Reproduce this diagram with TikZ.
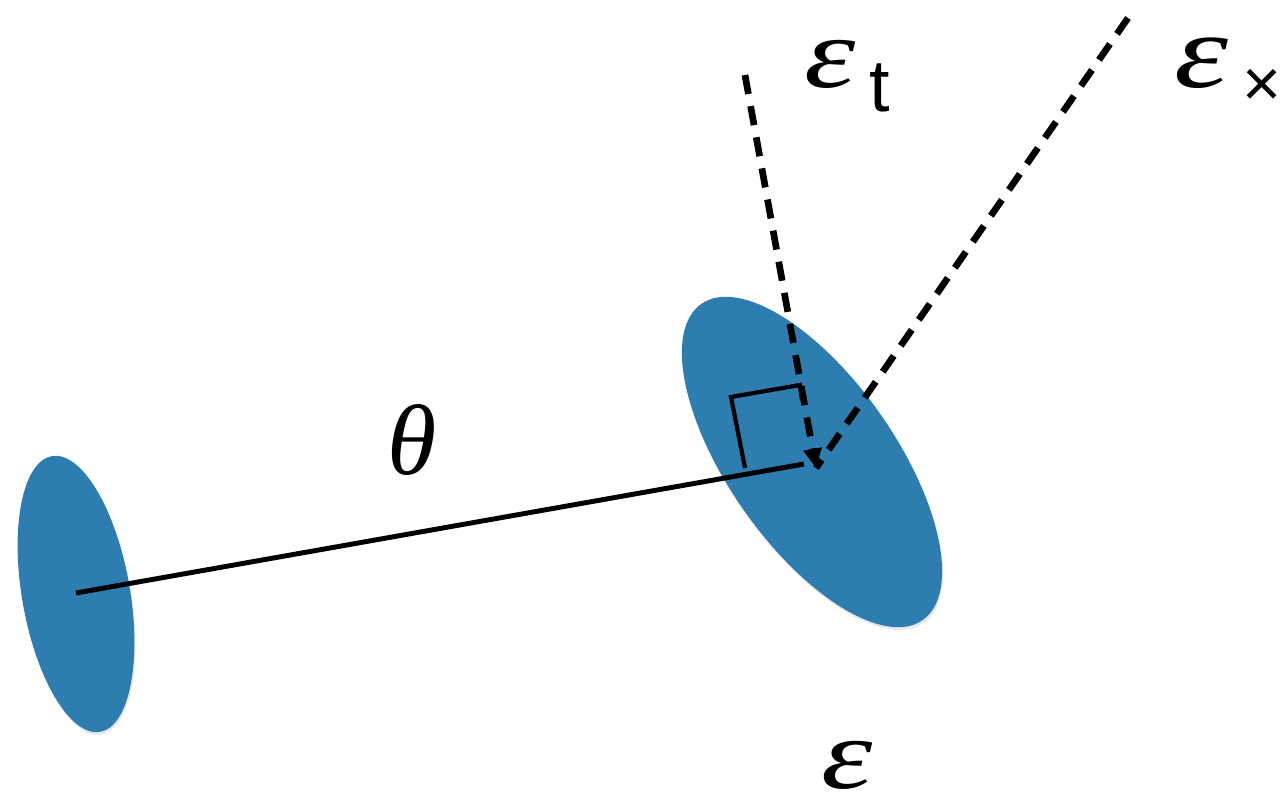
\documentclass[tikz,border=0pt]{standalone}
\usepackage{fontspec}
\setmainfont{Liberation Serif}
\newfontfamily\sansf{Liberation Sans}
\usetikzlibrary{shapes.geometric,arrows.meta,shadows}
\definecolor{blob}{RGB}{46,125,176}
\tikzset{
  blobshape/.style={ellipse, fill=blob, draw=none, inner sep=0pt, outer sep=0pt,
    drop shadow={opacity=0.18, shadow xshift=0.6pt, shadow yshift=-1.5pt}},
  solidline/.style={line width=2.8pt, black},
  dashline/.style={line width=3.8pt, black, dash pattern=on 11pt off 7pt},
  marker/.style={line width=2.4pt, black, line join=miter},
  serlabel/.style={inner sep=0pt, font=\fontsize{57}{57}\selectfont\itshape},
  eplabel/.style={inner sep=0pt, anchor=base west}
}
\newcommand{\subsans}[3]{\raisebox{#1}{\sansf\upshape\fontsize{#2}{#2}\selectfont #3}}
\newcommand{\wideeps}{\scalebox{1.3}[1]{ε}}
\begin{document}
\begin{tikzpicture}[x=0.02cm,y=-0.02cm]
\useasboundingbox (0,0) rectangle (1286,803);
% ellipses
\node[blobshape, minimum width=2.16cm, minimum height=5.6cm, rotate=9.9] (L) at (76,594) {};
\node[blobshape, minimum width=3.34cm, minimum height=7.72cm, rotate=35] (R) at (812,462) {};
% key points
\coordinate (p) at (76,593);
\coordinate (q) at (804,464);
\coordinate (tip) at (816,468);
\coordinate (tT) at (745,75);
\coordinate (tX) at (1128,18);
% solid baseline
\draw[solidline] (p) -- (q);
% right-angle mark
\draw[marker] (745,468) -- (731,397) -- (800,385) -- (802,400);
% dashed directions
\draw[dashline] (tX) -- (tip);
\draw[dashline, -{Triangle[length=11pt,width=10pt]}] (tT) -- (tip);
% labels
\node[serlabel] (th) at (412,440) {θ};
\node[serlabel, anchor=base west] (eb) at (821,789) {\wideeps};
\node[eplabel] (et) at (804,88) {\fontsize{57}{57}\selectfont\itshape \wideeps\hspace{8pt}\subsans{-13.6pt}{42}{t}};
\node[eplabel] (ex) at (1174,88) {\fontsize{60}{60}\selectfont\itshape \wideeps\hspace{8pt}\subsans{-10.8pt}{38}{×}};
\end{tikzpicture}
\end{document}
